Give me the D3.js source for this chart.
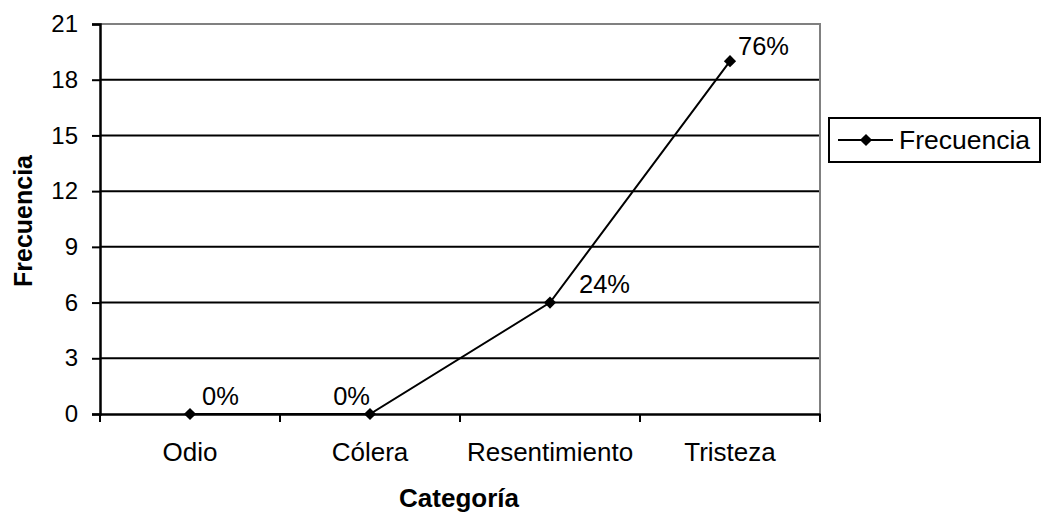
<!DOCTYPE html>
<html><head><meta charset="utf-8">
<script src="https://cdn.jsdelivr.net/npm/d3@7"></script>
<style>
html,body{margin:0;padding:0;background:#fff;}
text{font-family:Arial,"Liberation Sans",sans-serif;fill:#000;}
</style></head>
<body>
<svg id="chart" width="1043" height="515"></svg>
<script>
const categories = ["Odio", "Cólera", "Resentimiento", "Tristeza"];
const frecuencia = [0, 0, 6, 19];
const yTicks = [0, 3, 6, 9, 12, 15, 18, 21];
const seriesName = "Frecuencia";
const xTitle = "Categoría";
const yTitle = "Frecuencia";

const total = d3.sum(frecuencia);
const pctLabels = frecuencia.map(v => Math.round(v / total * 100) + "%");

const FONT = 'Arial,"Liberation Sans",sans-serif';
const svg = d3.select("#chart");
const L = 100, R = 820, T = 24, B = 414;

const x = d3.scaleBand().domain(categories).range([L, R]);
const y = d3.scaleLinear().domain([0, 21]).range([B, T]);

// gridlines
svg.append("g").selectAll("line").data(yTicks.filter(t => t > 0 && t < 21)).join("line")
  .attr("x1", L).attr("x2", R).attr("y1", d => y(d)).attr("y2", d => y(d))
  .attr("stroke", "#000").attr("stroke-width", 2);

// plot border top & right (gray)
svg.append("path").attr("d", `M${L},${y(21)}H${R}V${B}`)
  .attr("fill", "none").attr("stroke", "#808080").attr("stroke-width", 2);

// y axis
const yAxis = svg.append("g").attr("transform", `translate(${L},0)`)
  .call(d3.axisLeft(y).tickValues(yTicks).tickSize(8).tickPadding(14));
yAxis.select(".domain").attr("stroke", "#000").attr("stroke-width", 2.5);
yAxis.selectAll(".tick line").attr("stroke", "#000").attr("stroke-width", 2);
yAxis.selectAll(".tick text").attr("font-size", 24).attr("font-family", FONT);

// x axis
const xAxis = svg.append("g").attr("transform", `translate(0,${B})`)
  .call(d3.axisBottom(x).tickSize(0).tickPadding(0));
xAxis.select(".domain").attr("stroke", "#000").attr("stroke-width", 2.5);
xAxis.selectAll(".tick text").attr("font-size", 26).attr("dy", "0").attr("y", 47)
  .attr("font-family", FONT);
// boundary ticks
const bounds = categories.map(c => x(c)).concat([x(categories[categories.length - 1]) + x.bandwidth()]);
svg.append("g").selectAll("line").data(bounds).join("line")
  .attr("x1", d => d).attr("x2", d => d).attr("y1", B).attr("y2", B + 8)
  .attr("stroke", "#000").attr("stroke-width", 2);

// line
const cx = c => x(c) + x.bandwidth() / 2;
const pts = categories.map((c, i) => [cx(c), y(frecuencia[i])]);
svg.append("path").attr("d", d3.line()(pts)).attr("fill", "none")
  .attr("stroke", "#000").attr("stroke-width", 2);

// markers
const sym = d3.symbol().type(d3.symbolDiamond2).size(95);
svg.append("g").selectAll("path").data(pts).join("path")
  .attr("d", sym).attr("transform", d => `translate(${d[0]},${d[1]})`)
  .attr("fill", "#000");

// data labels (layout offsets)
const labelLayout = [
  {dx: 12, dy: -9, anchor: "start"},
  {dx: 0, dy: -9, anchor: "end"},
  {dx: 29, dy: -10, anchor: "start"},
  {dx: 8, dy: -6, anchor: "start"}
];
svg.append("g").selectAll("text").data(pts).join("text")
  .attr("x", (d, i) => d[0] + labelLayout[i].dx)
  .attr("y", (d, i) => d[1] + labelLayout[i].dy)
  .attr("text-anchor", (d, i) => labelLayout[i].anchor)
  .attr("font-size", 25.5)
  .text((d, i) => pctLabels[i]);

// axis titles
svg.append("text").attr("x", (L + R) / 2 - 1).attr("y", 507).attr("text-anchor", "middle")
  .attr("font-size", 26).attr("font-weight", "bold").text(xTitle);
svg.append("text").attr("transform", `translate(32,${(T + B) / 2 + 2}) rotate(-90)`)
  .attr("text-anchor", "middle").attr("font-size", 25).attr("font-weight", "bold").text(yTitle);

// legend
const lg = svg.append("g");
lg.append("rect").attr("x", 829).attr("y", 118).attr("width", 211).attr("height", 44)
  .attr("fill", "#fff").attr("stroke", "#000").attr("stroke-width", 2);
lg.append("line").attr("x1", 838).attr("x2", 893).attr("y1", 140).attr("y2", 140)
  .attr("stroke", "#000").attr("stroke-width", 2);
lg.append("path").attr("d", sym).attr("transform", "translate(866,140)").attr("fill", "#000");
lg.append("text").attr("x", 899).attr("y", 149).attr("font-size", 26.5).text(seriesName);
</script>
</body></html>
